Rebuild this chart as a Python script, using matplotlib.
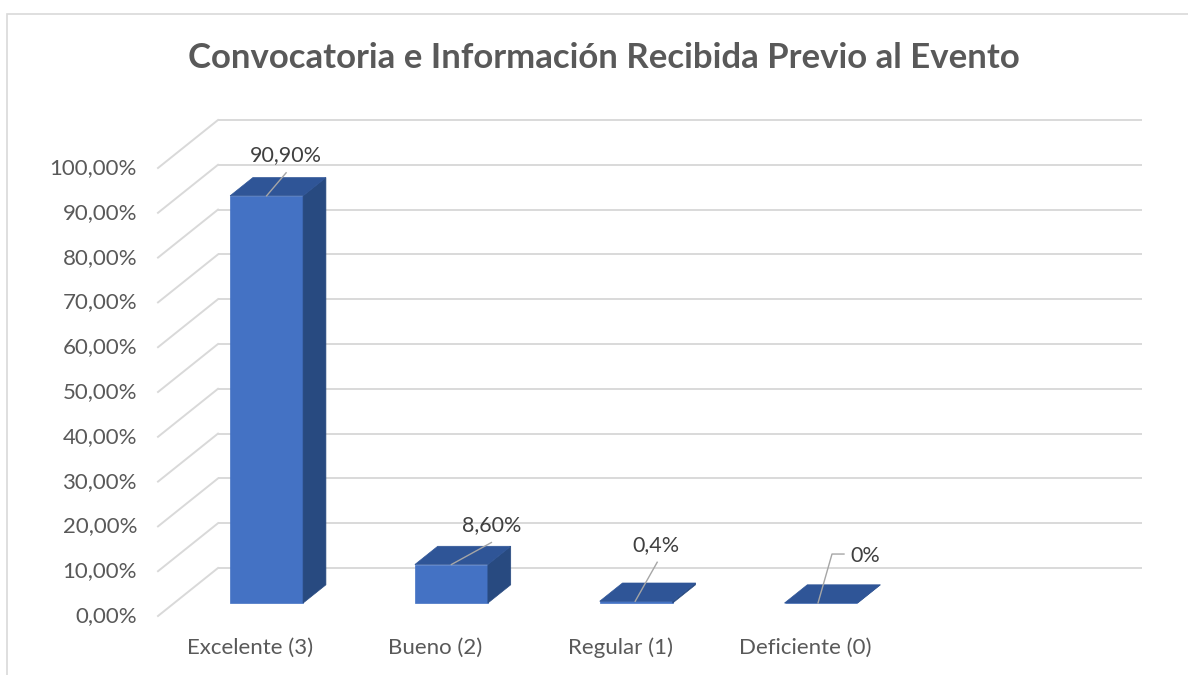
import matplotlib
matplotlib.use("Agg")
import matplotlib.pyplot as plt
from matplotlib.patches import Polygon, Rectangle

TITLE = "Convocatoria e Información Recibida Previo al Evento"
categories = ["Excelente (3)", "Bueno (2)", "Regular (1)", "Deficiente (0)", ""]
values = [90.9, 8.6, 0.4, 0.0]
value_labels = ["90,90%", "8,60%", "0,4%", "0%"]
y_ticks = [0, 10, 20, 30, 40, 50, 60, 70, 80, 90, 100]
y_tick_labels = [f"{t},00%" for t in y_ticks]

# pixel geometry of the pseudo-3D box (figure is 1188 x 675 px)
W, H = 1188, 675
PX_CAT = 184.8          # px per category
PX_PCT = 4.48           # px per percent
X0_PX, Y0_PX = 158, 616  # front-left corner of the floor (value 0)
DX = 60 / PX_CAT        # depth offset in category units
DY = 48 / PX_PCT        # depth offset in percent units
D_FRONT, D_BACK = 0.27, 0.65
BAR_W = 0.395

FRONT = "#4472C4"
TOP = "#2F5597"
SIDE = "#284A80"
GRID = "#D9D9D9"
TEXT = "#595959"

# label / leader offsets in px (dx right, dy up) from the bar's front-top centre
label_offsets = [(19.5, 41), (40, 39), (20, 56), (44, 47)]
leader_paths = [
    [(0, 0), (19.5, 23)],
    [(0, 0), (40, 22)],
    [(-1, 0), (21, 39)],
    [(-3, 0), (11, 49), (23, 49)],
]

fig = plt.figure(figsize=(W / 100, H / 100), dpi=100)
ax = fig.add_axes([0, 0, 1, 1])
ax.set_xlim(-X0_PX / PX_CAT, (W - X0_PX) / PX_CAT)
ax.set_ylim(-(H - Y0_PX) / PX_PCT, Y0_PX / PX_PCT)
ax.axis("off")

n = len(categories)

# walls: back grid lines and left-wall diagonals
for v, lab in zip(y_ticks, y_tick_labels):
    ax.plot([DX, n + DX], [v + DY, v + DY], color=GRID, lw=1.4, zorder=1,
            solid_capstyle="butt")
    ax.plot([0, DX], [v, v + DY], color=GRID, lw=1.4, zorder=1)
    ax.text((137 - X0_PX) / PX_CAT, v, lab, ha="right", va="center",
            fontsize=16, color=TEXT, family="Lato")

for i, cat in enumerate(categories):
    ax.text(i + 0.5, -(648 - Y0_PX) / PX_PCT, cat, ha="center", va="center",
            fontsize=16, color=TEXT, family="Lato")

# bars
for i, v in enumerate(values):
    xl = i + 0.5 - BAR_W / 2 + D_FRONT * DX
    xr = xl + BAR_W
    yb = D_FRONT * DY
    yt = yb + v
    ddx = (D_BACK - D_FRONT) * DX
    ddy = (D_BACK - D_FRONT) * DY
    ax.add_patch(Rectangle((xl, yb), BAR_W, v, facecolor=FRONT,
                           edgecolor=FRONT, lw=0.5, zorder=3))
    ax.add_patch(Polygon([(xr, yb), (xr + ddx, yb + ddy), (xr + ddx, yt + ddy), (xr, yt)],
                         closed=True, facecolor=SIDE, edgecolor=SIDE, lw=0.5, zorder=3))
    ax.add_patch(Polygon([(xl, yt), (xr, yt), (xr + ddx, yt + ddy), (xl + ddx, yt + ddy)],
                         closed=True, facecolor=TOP, edgecolor=TOP, lw=0.5, zorder=3))

    ax_x, ax_y = i + 0.5 + D_FRONT * DX, yt
    px = [ax_x + p[0] / PX_CAT for p in leader_paths[i]]
    py = [ax_y + p[1] / PX_PCT for p in leader_paths[i]]
    ax.plot(px, py, color="#A6A6A6", lw=1.0, zorder=4)
    ox, oy = label_offsets[i]
    ax.text(ax_x + ox / PX_CAT, ax_y + oy / PX_PCT, value_labels[i],
            ha="center", va="center", fontsize=15.5, color="#404040",
            family="Lato", zorder=5)

fig.text(604 / W, 1 - 58 / H, TITLE, ha="center", va="center",
         fontsize=25, fontweight="bold", color=TEXT, family="Lato")

# chart-area frame (cut off at the right and bottom in the reference)
fig.patches.append(Rectangle((7 / W, -0.1), 1.2, 1.1 - 14 / H,
                             transform=fig.transFigure, facecolor="none",
                             edgecolor=GRID, lw=1.2))

fig.savefig("out.png", dpi=100)
